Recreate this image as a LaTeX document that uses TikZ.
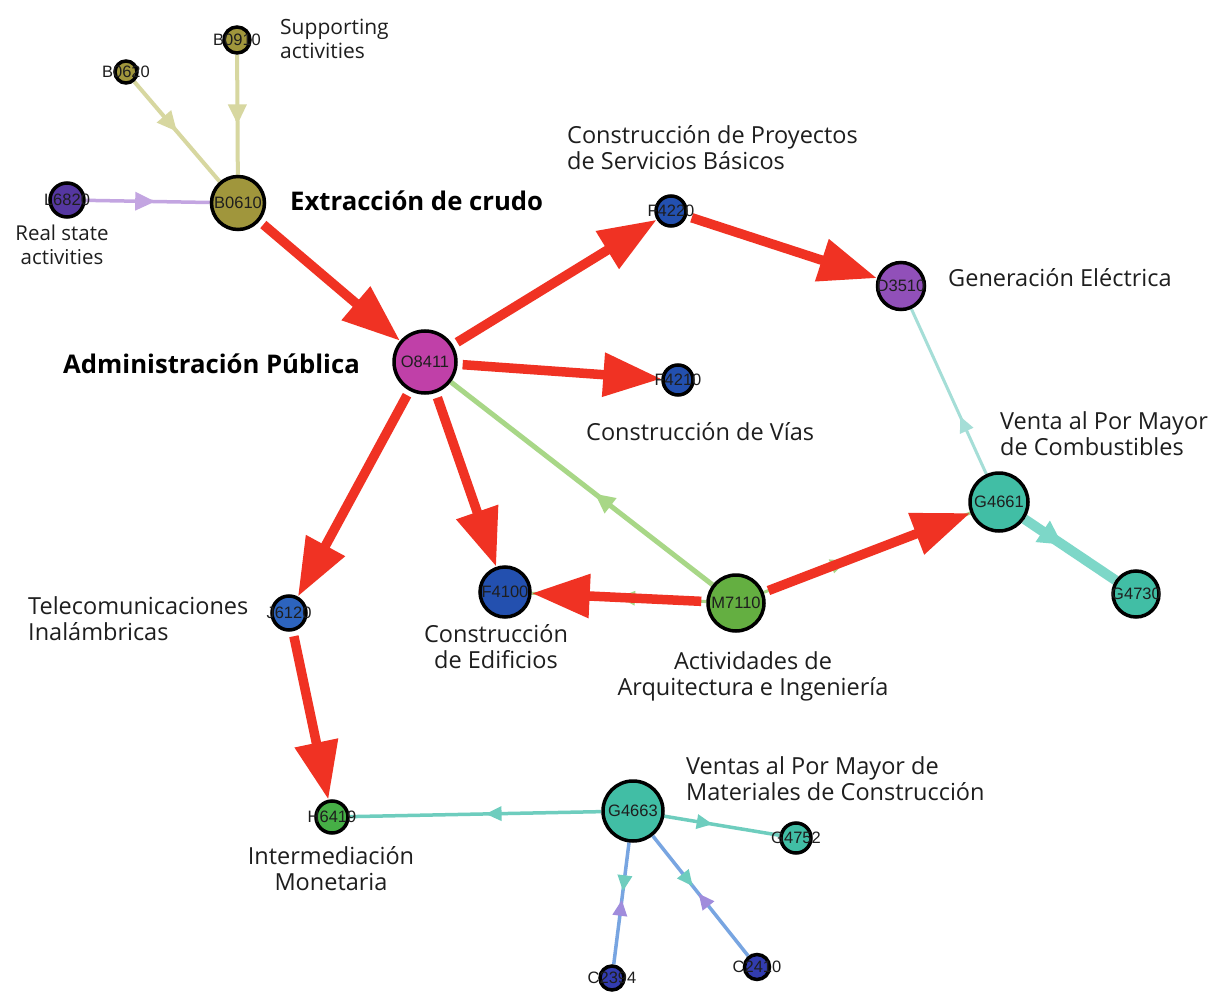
\documentclass[tikz,border=0pt]{standalone}
\usepackage{fontspec}
\setmainfont{Open Sans}
\newfontfamily\nodefont{Liberation Sans}
\usetikzlibrary{arrows.meta,decorations.markings,backgrounds}
\definecolor{cRed}{RGB}{240,50,35}
\definecolor{cOlive}{RGB}{160,150,60}
\definecolor{cIndigo}{RGB}{85,55,160}
\definecolor{cMagenta}{RGB}{192,64,168}
\definecolor{cBlue}{RGB}{35,80,175}
\definecolor{cBlueB}{RGB}{45,100,190}
\definecolor{cViolet}{RGB}{145,80,185}
\definecolor{cGreen}{RGB}{100,175,65}
\definecolor{cGreenB}{RGB}{70,175,70}
\definecolor{cTeal}{RGB}{65,190,165}
\definecolor{cNavy}{RGB}{50,60,175}
\definecolor{eKhaki}{RGB}{215,215,160}
\definecolor{eLav}{RGB}{195,165,225}
\definecolor{eGreen}{RGB}{168,215,135}
\definecolor{eTealL}{RGB}{165,222,215}
\definecolor{eTealT}{RGB}{125,215,200}
\definecolor{eTeal}{RGB}{110,205,190}
\definecolor{eBlue}{RGB}{120,165,225}
\definecolor{ePur}{RGB}{160,140,220}
\definecolor{txt}{RGB}{30,30,30}
\tikzset{
  vtx/.style={circle, draw=black, line width=3.5pt, inner sep=0pt},
  idl/.style={font=\nodefont\fontsize{16.5}{16.5}\selectfont, text=txt, inner sep=0pt},
  lab/.style={font=\fontsize{23.5}{26.5}\selectfont, text=txt, inner sep=0pt},
  blab/.style={font=\fontsize{25.7}{30}\selectfont\bfseries, text=black, inner sep=0pt},
  slab/.style={font=\fontsize{21}{23.5}\selectfont, text=txt, inner sep=0pt},
  rlab/.style={font=\fontsize{20.5}{23.5}\selectfont, text=txt, inner sep=0pt},
  midarr/.style={postaction={decorate}, decoration={markings, mark=at position #1 with {\arrow{Triangle[length=20pt,width=18pt]}}}},
  smallarr/.style={postaction={decorate}, decoration={markings, mark=at position #1 with {\arrow{Triangle[length=16pt,width=14pt]}}}},
  biarr/.style 2 args={postaction={decorate}, decoration={markings,
      mark=at position #1 with {\arrow{Triangle[length=16pt,width=14pt,color=eTeal]}},
      mark=at position #2 with {\arrowreversed{Triangle[length=16pt,width=14pt,color=ePur]}}}},
  redge/.style={draw=cRed, line width=9.5pt, -{Triangle[length=58pt,width=42pt]}, shorten <=5pt},
}
\begin{document}
\begin{tikzpicture}[x=1pt,y=-1pt]
\useasboundingbox (0,0) rectangle (1231,992);
\clip (0,0) rectangle (1231,992);
% vertices
\node[vtx, minimum size=26pt, fill=cOlive, label={[idl]center:B0910}] (B0910) at (237,40) {};
\node[vtx, minimum size=22pt, fill=cOlive, label={[idl]center:B0620}] (B0620) at (126,72) {};
\node[vtx, minimum size=34pt, fill=cIndigo, label={[idl]center:L6820}] (L6820) at (67,200) {};
\node[vtx, minimum size=53pt, fill=cOlive, label={[idl]center:B0610}] (B0610) at (238,203) {};
\node[vtx, minimum size=62pt, fill=cMagenta, label={[idl]center:O8411}] (O8411) at (425,362) {};
\node[vtx, minimum size=30pt, fill=cBlue, label={[idl]center:F4220}] (F4220) at (671,211) {};
\node[vtx, minimum size=30pt, fill=cBlue, label={[idl]center:F4210}] (F4210) at (678,380) {};
\node[vtx, minimum size=47pt, fill=cViolet, label={[idl]center:D3510}] (D3510) at (901,286) {};
\node[vtx, minimum size=34pt, fill=cBlueB, label={[idl]center:J6120}] (J6120) at (289,613) {};
\node[vtx, minimum size=50pt, fill=cBlue, label={[idl]center:F4100}] (F4100) at (505,592) {};
\node[vtx, minimum size=56pt, fill=cGreen, label={[idl]center:M7110}] (M7110) at (736,603) {};
\node[vtx, minimum size=58pt, fill=cTeal, label={[idl]center:G4661}] (G4661) at (999,502) {};
\node[vtx, minimum size=46pt, fill=cTeal, label={[idl]center:G4730}] (G4730) at (1136,594) {};
\node[vtx, minimum size=32pt, fill=cGreenB, label={[idl]center:H6419}] (H6419) at (332,817) {};
\node[vtx, minimum size=60pt, fill=cTeal, label={[idl]center:G4663}] (G4663) at (633,811) {};
\node[vtx, minimum size=30pt, fill=cTeal, label={[idl]center:G4752}] (G4752) at (796,838) {};
\node[vtx, minimum size=24pt, fill=cNavy, label={[idl]center:C2394}] (C2394) at (612,978) {};
\node[vtx, minimum size=25pt, fill=cNavy, label={[idl]center:C2410}] (C2410) at (757,967) {};
% text labels
\node[slab, anchor=north west, align=left] (tSup) at (280,19) {Supporting\\activities};
\node[rlab, anchor=north, align=center] (tReal) at (62,225) {Real state\\activities};
\node[blab, anchor=base west] (tExt) at (290,211) {Extracción de crudo};
\node[blab, anchor=base west] (tAdm) at (63,373) {Administración Pública};
\node[lab, anchor=north west, align=left] (tCPS) at (567,125) {Construcción de Proyectos\\de Servicios Básicos};
\node[lab, anchor=base west] (tGen) at (948,287) {Generación Eléctrica};
\node[lab, anchor=base west] (tVias) at (586,440) {Construcción de Vías};
\node[lab, anchor=north west, align=left] (tVen) at (1000,411) {Venta al Por Mayor\\de Combustibles};
\node[lab, anchor=north west, align=left] (tTel) at (28,596) {Telecomunicaciones\\Inalámbricas};
\node[lab, anchor=north, align=center] (tEdi) at (496,624) {Construcción\\de Edificios};
\node[lab, anchor=north, align=center] (tArq) at (753,651) {Actividades de\\Arquitectura e Ingeniería};
\node[lab, anchor=north west, align=left] (tVMC) at (686,756) {Ventas al Por Mayor de\\Materiales de Construcción};
\node[lab, anchor=north, align=center] (tInt) at (331,846) {Intermediación\\Monetaria};
% edges
\begin{pgfonlayer}{background}
\fill[white] (0,0) rectangle (1231,992);
\draw[eKhaki, line width=4pt, midarr=0.5] (B0620) -- (B0610);
\draw[eKhaki, line width=4pt, midarr=0.58] (B0910) -- (B0610);
\draw[eLav, line width=3.5pt, midarr=0.56] (L6820) -- (B0610);
\draw[eGreen, line width=5pt, midarr=0.45] (M7110) -- (O8411);
\draw[eGreen, line width=3pt, smallarr=0.5] (M7110) -- (F4100);
\draw[eGreen, line width=3pt, smallarr=0.4] (M7110) -- (G4661);
\draw[eTealL, line width=3pt, smallarr=0.35] (G4661) -- (D3510);
\draw[eTealT, line width=10pt, postaction={decorate}, decoration={markings, mark=at position 0.42 with {\arrow{Triangle[length=24pt,width=24pt]}}}] (G4661) -- (G4730);
\draw[eTeal, line width=3.5pt, smallarr=0.46] (G4663) -- (H6419);
\draw[eTeal, line width=3.5pt, smallarr=0.42] (G4663) -- (G4752);
\draw[eBlue, line width=3.5pt, biarr={0.4}{0.47}] (G4663) -- (C2394);
\draw[eBlue, line width=3.5pt, biarr={0.42}{0.48}] (G4663) -- (C2410);
% red edges
\draw[redge] (B0610) -- (O8411);
\draw[redge] (O8411) -- (F4220);
\draw[redge] (F4220) -- (D3510);
\draw[redge] (O8411) -- (F4210);
\draw[redge] (O8411) -- (J6120);
\draw[redge] (O8411) -- (F4100);
\draw[redge] (M7110) -- (F4100);
\draw[redge] (M7110) -- (G4661);
\draw[redge] (J6120) -- (H6419);
\end{pgfonlayer}
\end{tikzpicture}
\end{document}
